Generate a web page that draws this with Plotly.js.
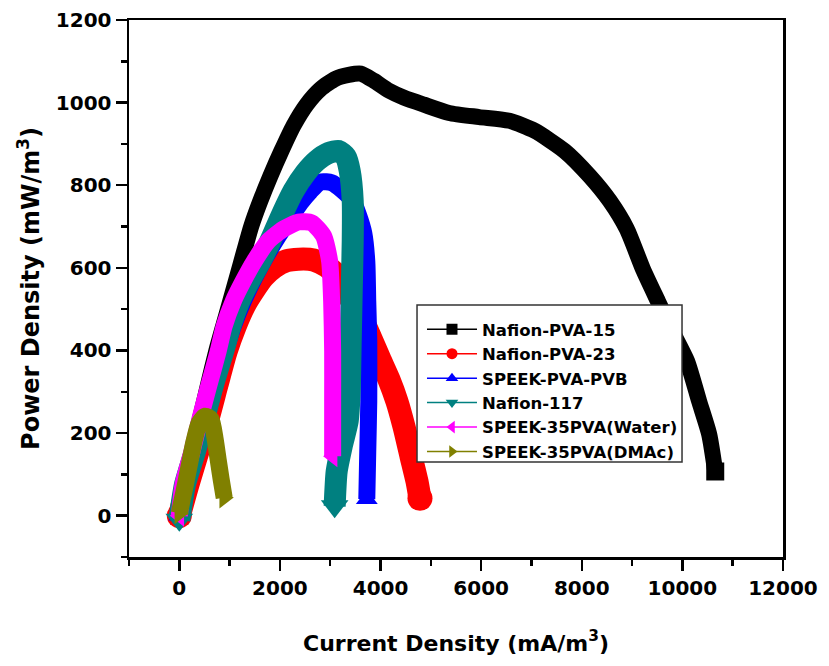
<!DOCTYPE html>
<html>
<head>
<meta charset="utf-8">
<script src="https://cdn.plot.ly/plotly-3.0.1.min.js"></script>
<style>html,body{margin:0;padding:0;background:#fff;}#chart{width:829px;height:666px;}</style>
</head>
<body>
<div id="chart"></div>
<script>
// Series names
const seriesNames = ["Nafion-PVA-15", "Nafion-PVA-23", "SPEEK-PVA-PVB", "Nafion-117", "SPEEK-35PVA(Water)", "SPEEK-35PVA(DMAc)"];

// Nafion-PVA-15 (black)
const nafionPVA15_x = [0,74,253,413,573,733,872,1012,1152,1291,1431,1611,1810,2030,2269,2529,2808,3108,3367,3607,3866,4166,4465,4864,5363,5962,6561,7060,7659,8158,8557,8896,9216,9515,9794,10094,10333,10533,10653];
const nafionPVA15_y = [0,76,156,236,318,398,459,519,580,641,701,762,822,883,944,995,1033,1058,1067,1070,1053,1029,1012,995,975,965,956,932,883,822,762,694,597,519,447,374,277,197,107];

// Nafion-PVA-23 (red)
const nafionPVA23_x = [0,174,373,573,752,932,1112,1291,1471,1671,1890,2130,2369,2669,2928,3168,3367,3607,3806,3986,4166,4325,4465,4605,4725,4784];
const nafionPVA23_y = [0,76,156,236,318,398,459,508,544,578,602,617,621,619,604,578,532,483,430,379,330,277,216,144,83,42];

// SPEEK-PVA-PVB (blue)
const speekPVAPVB_x = [0,134,333,533,713,912,1072,1271,1491,1731,1970,2210,2409,2609,2808,3028,3228,3447,3567,3667,3727,3746,3766,3766,3746,3727];
const speekPVAPVB_y = [0,76,156,236,318,398,459,519,575,629,677,721,757,786,808,806,789,762,726,684,616,519,423,277,156,40];

// Nafion-117 (teal)
const nafion117_x = [0,114,313,493,673,872,1012,1192,1391,1611,1810,2030,2269,2509,2729,2968,3168,3307,3387,3447,3447,3427,3407,3387,3347,3228,3128,3088];
const nafion117_y = [-10,76,156,236,318,398,459,519,568,616,665,726,786,830,859,878,883,869,835,762,665,544,423,301,229,168,107,23];

// SPEEK-35PVA(Water) (magenta)
const speekWater_x = [0,74,253,413,593,772,892,1072,1271,1491,1770,2070,2369,2629,2868,2988,3028,3048,3048,3048];
const speekWater_y = [0,76,156,236,318,398,459,519,568,616,665,694,711,709,677,616,519,398,277,144];

// SPEEK-35PVA(DMAc) (olive)
const speekDMAc_x = [0,94,194,293,393,513,633,713,772,832,892];
const speekDMAc_y = [6,59,120,180,224,241,233,185,136,88,44];

// Tick values
const xTickVals = [0,2000,4000,6000,8000,10000,12000];
const yTickVals = [0,200,400,600,800,1000,1200];

const colors = ["#000000", "#FF0000", "#0000FF", "#008080", "#FF00FF", "#808000"];
const symbols = ["square", "circle", "triangle-up", "triangle-down", "triangle-left", "triangle-right"];
const bandWidths = [16, 23, 17, 22, 17, 17];

const xs = [nafionPVA15_x, nafionPVA23_x, speekPVAPVB_x, nafion117_x, speekWater_x, speekDMAc_x];
const ys = [nafionPVA15_y, nafionPVA23_y, speekPVAPVB_y, nafion117_y, speekWater_y, speekDMAc_y];

const FONT = "DejaVu Sans, Arial, sans-serif";

const traces = [];
for (let i = 0; i < seriesNames.length; i++) {
  const n = xs[i].length;
  // marker only at the two ends of the band, so the ends look like the reference
  const sizes = xs[i].map((_, k) => (k === 0 || k === n - 1) ? bandWidths[i] + 2 : 0);
  traces.push({
    type: "scatter",
    mode: "lines+markers",
    x: xs[i], y: ys[i],
    name: seriesNames[i],
    showlegend: false,
    line: {color: colors[i], width: bandWidths[i], shape: "spline", smoothing: 0.6},
    marker: {color: colors[i], symbol: symbols[i], size: sizes, opacity: 1, line: {width: 0, color: colors[i]}},
    hoverinfo: "skip"
  });
}
for (let i = 0; i < seriesNames.length; i++) {
  traces.push({
    type: "scatter",
    mode: "lines+markers",
    x: [null], y: [null],
    name: seriesNames[i],
    showlegend: true,
    line: {color: colors[i], width: 1.5},
    marker: {color: colors[i], symbol: symbols[i], size: 11, opacity: 1, line: {width: 0}}
  });
}

const axisCommon = {
  showgrid: false, zeroline: false,
  showline: true, mirror: true, linecolor: "#000", linewidth: 2.5,
  ticks: "outside", ticklen: 11, tickwidth: 2.5, tickcolor: "#000",
  tickfont: {family: FONT, size: 20, color: "#000", weight: "bold"}
};

const layout = {
  width: 829, height: 666,
  margin: {l: 129, r: 46, t: 20, b: 109},
  paper_bgcolor: "#fff", plot_bgcolor: "#fff",
  xaxis: Object.assign({}, axisCommon, {
    range: [-1000, 12000],
    tickvals: xTickVals,
    ticktext: xTickVals.map(String),
    minor: {dtick: 1000, tick0: 0, ticks: "outside", ticklen: 6, tickwidth: 2.5, tickcolor: "#000"},
    title: {text: "Current Density (mA/m<sup>3</sup>)", font: {family: FONT, size: 22, color: "#000", weight: "bold"}, standoff: 37}
  }),
  yaxis: Object.assign({}, axisCommon, {
    range: [-100, 1200],
    tickvals: yTickVals,
    ticktext: yTickVals.map(String),
    minor: {dtick: 100, tick0: 0, ticks: "outside", ticklen: 6, tickwidth: 2.5, tickcolor: "#000"},
    title: {text: "Power Density (mW/m<sup>3</sup>)", font: {family: FONT, size: 24, color: "#000", weight: "bold"}, standoff: 10}
  }),
  shapes: [{
    type: "rect", xref: "paper", yref: "paper", layer: "above",
    x0: 0.4404, x1: 0.8456, y0: 0.1769, y1: 0.4693,
    fillcolor: "#fff", line: {color: "#333", width: 1.5}
  }],
  legend: {
    x: 0.448, y: 0.4562, xanchor: "left", yanchor: "top",
    bgcolor: "rgba(0,0,0,0)", borderwidth: 0,
    font: {family: FONT, size: 16.5, color: "#000", weight: "bold"},
    itemwidth: 50
  },
  showlegend: true
};

Plotly.newPlot("chart", traces, layout, {staticPlot: true});
</script>
</body>
</html>
